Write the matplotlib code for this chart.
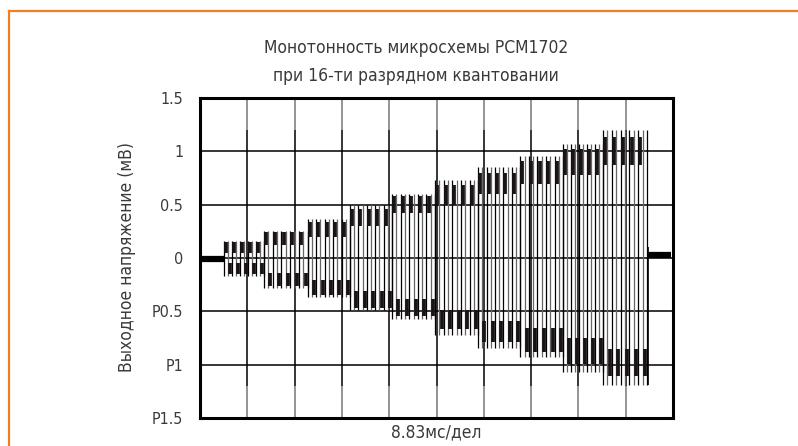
import matplotlib
matplotlib.use("Agg")
import matplotlib.pyplot as plt
from matplotlib.lines import Line2D

# amplitude steps of the test signal, x in scope divisions (8.83 ms/div)
step_edges = [0.51, 1.35, 2.28, 3.17, 4.06, 4.97, 5.88, 6.77, 7.68, 8.52, 9.45]
hi_level = [0.10, 0.18, 0.27, 0.38, 0.50, 0.59, 0.70, 0.80, 0.90, 1.00]
lo_level = [-0.10, -0.20, -0.28, -0.39, -0.46, -0.58, -0.69, -0.77, -0.87, -0.98]
hi_peak = [0.16, 0.25, 0.37, 0.50, 0.60, 0.73, 0.85, 0.96, 1.07, 1.20]
lo_peak = [-0.17, -0.28, -0.37, -0.49, -0.57, -0.72, -0.84, -0.93, -1.07, -1.19]
blob_half = [0.05, 0.06, 0.07, 0.08, 0.08, 0.09, 0.10, 0.11, 0.12, 0.13]
cycles_per_step = [5, 5, 5, 5, 5, 5, 5, 5, 5, 5]

idle_start = [0.0, 0.51]   # noise before the test
idle_end = [9.48, 9.95]    # noise after the test
idle_level_start = -0.01
idle_level_end = 0.03

y_ticks = [1.5, 1, 0.5, 0, -0.5, -1, -1.5]
y_labels = ["1.5", "1", "0.5", "0", "P0.5", "P1", "P1.5"]

TITLE = "Монотонность микросхемы PCM1702\nпри 16-ти разрядном квантовании"
XLABEL = "8.83мс/дел"
YLABEL = "Выходное напряжение (мВ)"

FONT = ["DejaVu Sans"]
TXT = "#3a3a3a"
ORANGE = "#ef7d22"


def draw_signal(ax):
    # idle noise at both ends
    ax.plot(idle_start, [idle_level_start] * 2, color="black", lw=4.5,
            solid_capstyle="butt", zorder=3)
    ax.plot(idle_end, [idle_level_end] * 2, color="black", lw=4.5,
            solid_capstyle="butt", zorder=3)
    ax.vlines(idle_end[0], lo_peak[-1], 0.1, color="black", lw=1.2, zorder=3)

    for i in range(len(hi_level)):
        s, e = step_edges[i], step_edges[i + 1]
        n = cycles_per_step[i]
        half = (e - s) / (2 * n)
        edges = [s + k * half for k in range(2 * n + 1)]
        # thin transitions
        for k, xe in enumerate(edges):
            col = "black" if k % 2 == 0 else "#666666"
            ax.vlines(xe, lo_peak[i], hi_peak[i], color=col, lw=0.9, zorder=2)
        # noisy blobs on each plateau
        for k in range(2 * n):
            xc = edges[k] + half * 0.5
            lev = hi_level[i] if k % 2 == 0 else lo_level[i]
            ax.vlines(xc, lev - blob_half[i], lev + blob_half[i],
                      color="#1a1414", lw=2.7, zorder=3)


def draw_grid(ax):
    for yv in y_ticks[1:-1]:
        ax.axhline(yv, color="black", lw=1.1, zorder=1)
    for xv in range(1, 10):
        ax.vlines(xv, -1.2, 1.2, color="black", lw=1.1, zorder=1)
        ax.vlines(xv, 1.2, 1.5, color="#777777", lw=1.1, zorder=1)
        ax.vlines(xv, -1.5, -1.2, color="#777777", lw=1.1, zorder=1)


def main():
    plt.rcParams["font.family"] = FONT
    plt.rcParams["font.stretch"] = "condensed"
    fig = plt.figure(figsize=(7.98, 4.46), dpi=100)
    fig.patch.set_facecolor("white")

    # orange frame (top and left only)
    fig.add_artist(Line2D([8.5 / 798, 1.0], [1 - 10.5 / 446] * 2,
                          transform=fig.transFigure, color=ORANGE, lw=1.6))
    fig.add_artist(Line2D([8.5 / 798] * 2, [0.0, 1 - 10.5 / 446],
                          transform=fig.transFigure, color=ORANGE, lw=1.6))

    ax = fig.add_axes([200 / 798, 28 / 446, 473 / 798, 320 / 446])
    ax.set_xlim(0, 10)
    ax.set_ylim(-1.5, 1.5)
    for sp in ax.spines.values():
        sp.set_linewidth(2.2)
        sp.set_color("black")

    draw_grid(ax)
    draw_signal(ax)

    ax.set_xticks([])
    ax.set_yticks(y_ticks)
    ax.set_yticklabels(y_labels, fontsize=11.5, color=TXT)
    ax.tick_params(axis="y", length=0, pad=12)

    fig.text(416 / 798, 1 - 62 / 446, TITLE, ha="center", va="center",
             fontsize=12.5, color=TXT, linespacing=1.7)
    fig.text(436 / 798, 1 - 432 / 446, XLABEL, ha="center", va="center",
             fontsize=12.5, color=TXT)
    fig.text(127 / 798, 1 - 257 / 446, YLABEL, ha="center", va="center",
             rotation=90, fontsize=12.5, color=TXT)

    plt.savefig("out.png", dpi=100)
    plt.close()


main()
